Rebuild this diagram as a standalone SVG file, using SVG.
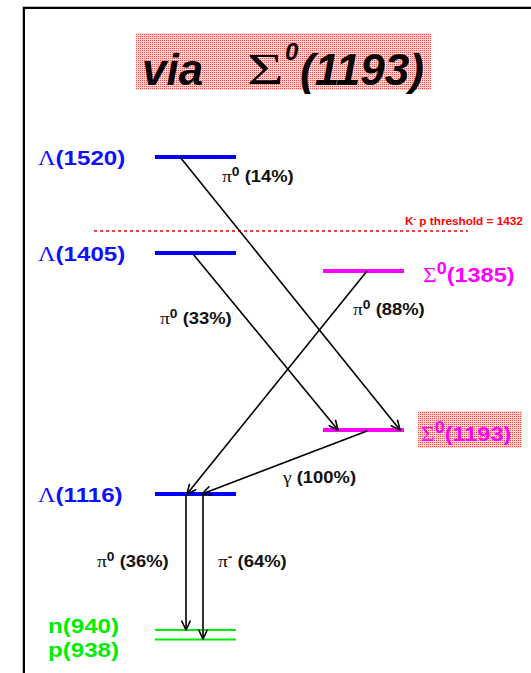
<svg xmlns="http://www.w3.org/2000/svg" width="531" height="673" viewBox="0 0 531 673">
<style>
.t{font-family:"Liberation Sans",Arial,sans-serif;font-weight:bold}
.g{font-family:"Liberation Serif","Times New Roman",serif;font-weight:normal;font-style:normal}
.blue{fill:#1010ff}
.mag{fill:#ff00ff}
.grn{fill:#00ee00}
.blk{fill:#111}
.lvlB{stroke:#0000ff;stroke-width:4}
.lvlM{stroke:#ff00ff;stroke-width:4}
.lvlG{stroke:#00ee00;stroke-width:2}
.arr{stroke:#000;stroke-width:1.6;fill:none;marker-end:url(#ah)}
</style>
<defs>
<pattern id="dots" width="2" height="2" patternUnits="userSpaceOnUse">
<rect width="2" height="2" fill="#ffd6d6"/>
<rect width="1" height="1" fill="#ff4a4a"/>
</pattern>
<marker id="ah" markerUnits="userSpaceOnUse" markerWidth="11" markerHeight="10" refX="10" refY="5" orient="auto" viewBox="0 0 11 10">
<path d="M0.5,0.5 L10,5 L0.5,9.5" fill="none" stroke="#000" stroke-width="1.6"/>
</marker>
</defs>
<rect width="531" height="673" fill="#fff"/>
<g id="frame">
<path d="M22.5,680 V6.5 H540" fill="none" stroke="#bbb" stroke-width="1"/>
<path d="M24,680 V8 H540" fill="none" stroke="#000" stroke-width="2"/>
</g>
<g id="title">
<rect x="136" y="33" width="295" height="57" fill="url(#dots)"/>
<text class="t" x="142" y="85" font-size="44" font-style="italic">via</text>
<text class="g" transform="translate(247,84) scale(1.4,1)" font-size="45">Σ</text>
<text class="t" x="285" y="60" font-size="24" font-style="italic">0</text>
<text class="t" x="300" y="85" font-size="44" font-style="italic">(1193)</text>
</g>
<g id="threshold">
<line x1="94" y1="231" x2="468" y2="231" stroke="#ff0000" stroke-width="1.6" stroke-dasharray="3,3"/>
<text class="t" transform="translate(405,225) scale(1.12,1)" font-size="10.5" fill="#ff0000">K<tspan font-size="7" dy="-4">-</tspan><tspan dy="4"> p threshold = 1432</tspan></text>
</g>
<g id="L1520">
<line class="lvlB" x1="155" y1="157" x2="236" y2="157"/>
<text class="t blue" transform="translate(38,165) scale(1.15,1)" font-size="21"><tspan class="g">Λ</tspan>(1520)</text>
</g>
<g id="L1405">
<line class="lvlB" x1="155" y1="253" x2="236" y2="253"/>
<text class="t blue" transform="translate(38,261) scale(1.15,1)" font-size="21"><tspan class="g">Λ</tspan>(1405)</text>
</g>
<g id="S1385">
<line class="lvlM" x1="323" y1="271" x2="404" y2="271"/>
<text class="t mag" transform="translate(423,282) scale(1.12,1)" font-size="21"><tspan class="g">Σ</tspan><tspan font-size="16" dy="-8">0</tspan><tspan dy="8">(1385)</tspan></text>
</g>
<g id="S1193">
<line class="lvlM" x1="323" y1="430" x2="404" y2="430"/>
<rect x="418" y="411" width="104" height="37" fill="url(#dots)"/>
<text class="t mag" transform="translate(421,441) scale(1.12,1)" font-size="21"><tspan class="g">Σ</tspan><tspan font-size="16" dy="-8">0</tspan><tspan dy="8">(1193)</tspan></text>
</g>
<g id="L1116">
<line class="lvlB" x1="155" y1="494" x2="236" y2="494"/>
<text class="t blue" transform="translate(38,502) scale(1.15,1)" font-size="21"><tspan class="g">Λ</tspan>(1116)</text>
</g>
<g id="n940">
<line class="lvlG" x1="155" y1="630" x2="236" y2="630"/>
<text class="t grn" transform="translate(48,633) scale(1.15,1)" font-size="21">n(940)</text>
</g>
<g id="p938">
<line class="lvlG" x1="155" y1="639.5" x2="236" y2="639.5"/>
<text class="t grn" transform="translate(48,657) scale(1.15,1)" font-size="21">p(938)</text>
</g>
<g id="connectors">
<line class="arr" x1="180" y1="157" x2="400" y2="430"/>
<line class="arr" x1="193" y1="254" x2="338" y2="430"/>
<line class="arr" x1="367" y1="271" x2="187" y2="494"/>
<line class="arr" x1="367" y1="431" x2="202" y2="494"/>
<line class="arr" x1="186" y1="494" x2="186" y2="630"/>
<line class="arr" x1="203" y1="494" x2="203" y2="639"/>
</g>
<g id="labels">
<text class="t blk" transform="translate(222,182) scale(1.15,1)" font-size="16"><tspan class="g" font-size="17">π</tspan><tspan font-size="12" dy="-6">0</tspan><tspan dy="6"> (14%)</tspan></text>
<text class="t blk" transform="translate(160,324) scale(1.15,1)" font-size="16"><tspan class="g" font-size="17">π</tspan><tspan font-size="12" dy="-6">0</tspan><tspan dy="6"> (33%)</tspan></text>
<text class="t blk" transform="translate(353,315) scale(1.15,1)" font-size="16"><tspan class="g" font-size="17">π</tspan><tspan font-size="12" dy="-6">0</tspan><tspan dy="6"> (88%)</tspan></text>
<text class="t blk" transform="translate(283,483) scale(1.15,1)" font-size="16"><tspan class="g" font-size="17">γ</tspan> (100%)</text>
<text class="t blk" transform="translate(97,567) scale(1.15,1)" font-size="16"><tspan class="g" font-size="17">π</tspan><tspan font-size="12" dy="-6">0</tspan><tspan dy="6"> (36%)</tspan></text>
<text class="t blk" transform="translate(218,567) scale(1.15,1)" font-size="16"><tspan class="g" font-size="17">π</tspan><tspan font-size="12" dy="-6">-</tspan><tspan dy="6"> (64%)</tspan></text>
</g>
</svg>
